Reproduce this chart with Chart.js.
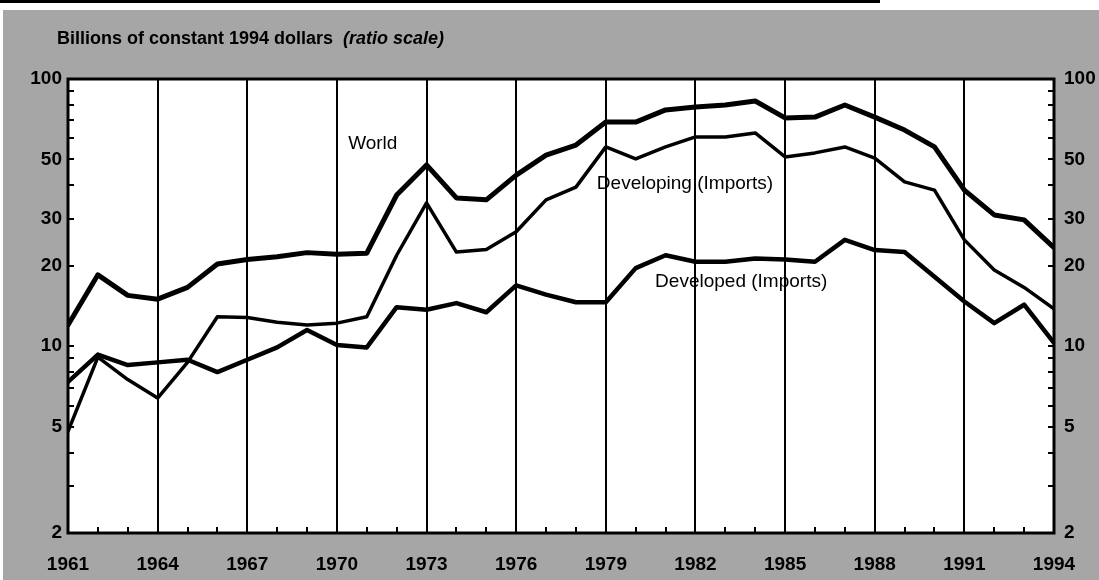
<!DOCTYPE html>
<html>
<head>
<meta charset="utf-8">
<script src="https://cdn.jsdelivr.net/npm/chart.js@4.4.1/dist/chart.umd.min.js"></script>
<style>
  html, body { margin: 0; padding: 0; background: #fff; }
  #wrap { position: relative; width: 1099px; height: 580px; }
  #chart { display: block; }
  #title {
    position: absolute; left: 57px; top: 29px;
    font: bold 18px Arial, "Liberation Sans", sans-serif; line-height: 18px;
    color: #000; white-space: pre;
  }
  #title i { font-style: italic; }
</style>
</head>
<body>
<div id="wrap">
  <canvas id="chart" width="1099" height="580"></canvas>
  <div id="title">Billions of constant 1994 dollars  <i>(ratio scale)</i></div>
</div>
<script>
  const years = [1961, 1962, 1963, 1964, 1965, 1966, 1967, 1968, 1969, 1970, 1971, 1972,
    1973, 1974, 1975, 1976, 1977, 1978, 1979, 1980, 1981, 1982, 1983, 1984, 1985, 1986,
    1987, 1988, 1989, 1990, 1991, 1992, 1993, 1994];

  const world = [12.0, 18.5, 15.5, 15.0, 16.6, 20.3, 21.1, 21.6, 22.4, 22.1, 22.3, 36.8,
    47.7, 35.9, 35.3, 43.7, 51.9, 56.6, 69.0, 69.0, 76.6, 78.6, 79.9, 82.7, 71.5, 72.0,
    79.9, 72.0, 64.4, 55.7, 38.4, 31.0, 29.7, 23.4];

  const developing = [4.8, 9.1, 7.5, 6.4, 8.7, 12.9, 12.8, 12.3, 12.0, 12.2, 12.9, 21.9,
    34.4, 22.5, 23.0, 26.8, 35.3, 39.4, 55.7, 50.2, 55.7, 60.7, 60.7, 62.8, 51.1, 52.9,
    55.7, 50.6, 41.2, 38.4, 25.0, 19.3, 16.6, 13.8];

  const developed = [7.35, 9.3, 8.5, 8.7, 8.9, 8.0, 8.9, 9.9, 11.5, 10.1, 9.9, 14.0,
    13.7, 14.5, 13.4, 16.9, 15.6, 14.6, 14.6, 19.6, 21.9, 20.7, 20.7, 21.3, 21.1, 20.7,
    25.0, 22.9, 22.5, 18.2, 14.7, 12.2, 14.3, 10.3];

  const xTicks = [1961, 1964, 1967, 1970, 1973, 1976, 1979, 1982, 1985, 1988, 1991, 1994];
  const yTicks = [2, 5, 10, 20, 30, 50, 100];
  const yMinorTicks = [3, 4, 6, 7, 8, 9, 40, 60, 70, 80, 90];

  // Texte im Diagramm (Position in Datenkoordinaten)
  const notes = [
    { text: "World", x: 1971.2, y: 57, align: "center" },
    { text: "Developing (Imports)", x: 1978.7, y: 40.5, align: "left" },
    { text: "Developed (Imports)", x: 1980.65, y: 17.5, align: "left" }
  ];

  const FONT = "Arial, 'Liberation Sans', sans-serif";
  const GRAY = "#a6a6a6";

  function toPoints(values) {
    return years.map((yr, i) => ({ x: yr, y: values[i] }));
  }

  // Hintergrund, Rahmen, kleine Teilstriche und Beschriftungen
  const framePlugin = {
    id: "frame",
    beforeDraw(chart) {
      const { ctx, chartArea: a, width, height } = chart;
      ctx.save();
      ctx.fillStyle = "#fff";
      ctx.fillRect(0, 0, width, height);
      ctx.fillStyle = GRAY;
      ctx.fillRect(3, 10, width - 3, height - 10);
      ctx.fillStyle = "#000";
      ctx.fillRect(0, 0, 880, 3);
      ctx.fillStyle = "#fff";
      ctx.fillRect(a.left, a.top, a.right - a.left, a.bottom - a.top);
      ctx.restore();
    },
    afterDraw(chart) {
      const { ctx, chartArea: a } = chart;
      const xs = chart.scales.x, ys = chart.scales.y;
      ctx.save();
      ctx.strokeStyle = "#000";
      ctx.lineWidth = 2;
      ctx.beginPath();
      yMinorTicks.concat(yTicks).forEach(v => {
        const py = Math.round(ys.getPixelForValue(v));
        ctx.moveTo(a.left, py); ctx.lineTo(a.left + 6, py);
        ctx.moveTo(a.right - 6, py); ctx.lineTo(a.right, py);
      });
      years.forEach(yr => {
        const px = Math.round(xs.getPixelForValue(yr));
        ctx.moveTo(px, a.bottom); ctx.lineTo(px, a.bottom - 6);
      });
      ctx.stroke();

      ctx.lineWidth = 3;
      ctx.strokeRect(a.left, a.top, a.right - a.left, a.bottom - a.top);

      ctx.fillStyle = "#000";
      ctx.font = "19px " + FONT;
      ctx.textBaseline = "middle";
      notes.forEach(n => {
        ctx.textAlign = n.align;
        ctx.fillText(n.text, xs.getPixelForValue(n.x), ys.getPixelForValue(n.y));
      });
      ctx.restore();
    }
  };

  const tickFont = { family: FONT, size: 19, weight: "bold" };

  function yAxis(position, padding, width) {
    return {
      type: "logarithmic",
      position: position,
      min: 2,
      max: 100,
      afterBuildTicks: s => { s.ticks = yTicks.map(v => ({ value: v })); },
      afterFit: s => { s.width = width; },
      ticks: { font: tickFont, color: "#000", padding: padding, callback: v => String(v) },
      grid: { display: false, drawTicks: false },
      border: { display: false }
    };
  }

  new Chart(document.getElementById("chart").getContext("2d"), {
    type: "line",
    data: {
      datasets: [
        { label: "World", data: toPoints(world), borderWidth: 5 },
        { label: "Developing (Imports)", data: toPoints(developing), borderWidth: 3.5 },
        { label: "Developed (Imports)", data: toPoints(developed), borderWidth: 4.5 }
      ].map(ds => Object.assign(ds, {
        borderColor: "#000",
        pointRadius: 0,
        tension: 0,
        borderJoinStyle: "round",
        borderCapStyle: "round",
        yAxisID: "y"
      }))
    },
    options: {
      responsive: false,
      animation: false,
      devicePixelRatio: 1,
      layout: { padding: { top: 79, left: 0, right: 0, bottom: 0 } },
      plugins: {
        legend: { display: false },
        tooltip: { enabled: false }
      },
      scales: {
        x: {
          type: "linear",
          min: 1961,
          max: 1994,
          afterBuildTicks: s => { s.ticks = xTicks.map(v => ({ value: v })); },
          afterFit: s => { s.height = 47; },
          ticks: { font: tickFont, color: "#000", padding: 20, maxRotation: 0, callback: v => String(v) },
          grid: { color: "#000", lineWidth: 2, drawTicks: false },
          border: { display: false }
        },
        y: yAxis("left", 6, 68),
        y2: yAxis("right", 10, 45)
      }
    },
    plugins: [framePlugin]
  });
</script>
</body>
</html>
